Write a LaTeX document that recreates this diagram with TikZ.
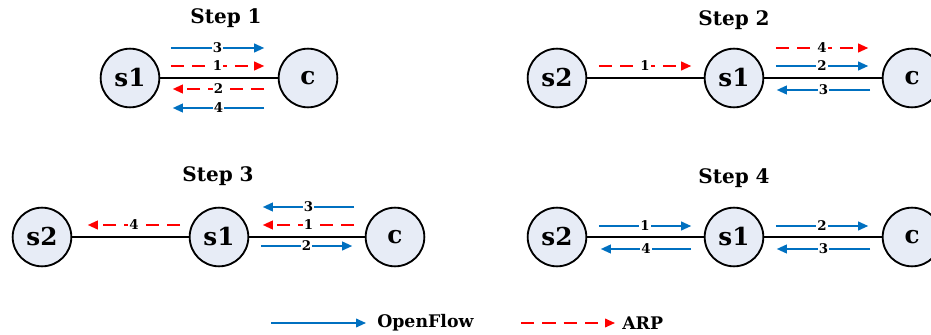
\documentclass[tikz,border=0pt]{standalone}
\usepackage{fontspec}
\setmainfont{DejaVu Serif}
\usetikzlibrary{arrows.meta}
\definecolor{ofblue}{RGB}{0,112,192}
\definecolor{arpred}{RGB}{255,0,0}
\definecolor{hostfill}{RGB}{231,236,246}
\begin{document}
\begin{tikzpicture}[x=0.75pt,y=-0.75pt,
  dev/.style={circle,draw=black,line width=1.4pt,fill=hostfill,minimum size=44pt,inner sep=0pt,
    font=\bfseries\fontsize{18.5}{20}\selectfont},
  link/.style={line width=1.8pt},
  tip/.style={-{Triangle[length=7.5pt,width=6.5pt]}},
  of/.style={tip,draw=ofblue,line width=1.3pt},
  arp/.style={tip,draw=arpred,line width=1.3pt,dash pattern=on 10pt off 6pt},
  num/.style={fill=white,inner sep=0.8pt,font=\bfseries\fontsize{10}{11}\selectfont},
  title/.style={font=\bfseries\fontsize{15}{17}\selectfont},
  legend/.style={anchor=west,inner sep=0pt,font=\bfseries\fontsize{13}{15}\selectfont}]
\useasboundingbox (0,0) rectangle (931,335);

% ---- Step 1 ----
\node[title] (t1) at (226,18) {Step 1};
\node[dev] (a1) at (130,78) {s1};
\node[dev] (ac) at (308,78) {c};
\draw[link] (a1) -- (ac);
\draw[of]  ([shift={(10.5,-30)}]a1.east) -- node[num]{3} ([shift={(-13.5,-30)}]ac.west);
\draw[arp] ([shift={(10.5,-12)}]a1.east) -- node[num]{1} ([shift={(-13.5,-12)}]ac.west);
\draw[arp] ([shift={(-13.5,11)}]ac.west) -- node[num]{2} ([shift={(12.5,11)}]a1.east);
\draw[of]  ([shift={(-13.5,30)}]ac.west) -- node[num]{4} ([shift={(12.5,30)}]a1.east);

% ---- Step 2 ----
\node[title] (t2) at (734,20) {Step 2};
\node[dev] (b2) at (557,78) {s2};
\node[dev] (b1) at (734,78) {s1};
\node[dev] (bc) at (912,78) {c};
\draw[link] (b2) -- (b1);
\draw[link] (b1) -- (bc);
\draw[arp] ([shift={(11.5,-12)}]b2.east) -- node[num]{1} ([shift={(-12.5,-12)}]b1.west);
\draw[arp] ([shift={(11.5,-30)}]b1.east) -- node[num]{4} ([shift={(-13.5,-30)}]bc.west);
\draw[of]  ([shift={(11.5,-12)}]b1.east) -- node[num]{2} ([shift={(-13.5,-12)}]bc.west);
\draw[of]  ([shift={(-11.5,12)}]bc.west) -- node[num]{3} ([shift={(12.5,12)}]b1.east);

% ---- Step 3 ----
\node[title] (t3) at (218,176) {Step 3};
\node[dev] (c2) at (42,237) {s2};
\node[dev] (c1) at (219,237) {s1};
\node[dev] (cc) at (395,237) {c};
\draw[link] (c2) -- (c1);
\draw[link] (c1) -- (cc);
\draw[of]  ([shift={(-10.5,-30)}]cc.west) -- node[num]{3} ([shift={(13.5,-30)}]c1.east);
\draw[arp] ([shift={(-10.5,-12)}]cc.west) -- node[num]{1} ([shift={(13.5,-12)}]c1.east);
\draw[of]  ([shift={(11.5,9)}]c1.east) -- node[num]{2} ([shift={(-12.5,9)}]cc.west);
\draw[arp] ([shift={(-8.5,-12)}]c1.west) -- node[num]{4} ([shift={(15.5,-12)}]c2.east);

% ---- Step 4 ----
\node[title] (t4) at (734,178) {Step 4};
\node[dev] (d2) at (557,237) {s2};
\node[dev] (d1) at (734,237) {s1};
\node[dev] (dc) at (912,237) {c};
\draw[link] (d2) -- (d1);
\draw[link] (d1) -- (dc);
\draw[of] ([shift={(11.5,-11)}]d2.east) -- node[num]{1} ([shift={(-12.5,-11)}]d1.west);
\draw[of] ([shift={(-12.5,12)}]d1.west) -- node[num]{4} ([shift={(13.5,12)}]d2.east);
\draw[of] ([shift={(11.5,-11)}]d1.east) -- node[num]{2} ([shift={(-13.5,-11)}]dc.west);
\draw[of] ([shift={(-11.5,12)}]dc.west) -- node[num]{3} ([shift={(12.5,12)}]d1.east);

% ---- Legend ----
\coordinate (lofa) at (271,323);
\coordinate (lofb) at (366,323);
\node[legend] (lof) at (377,323) {OpenFlow};
\draw[of] (lofa) -- (lofb);
\coordinate (larpa) at (521,323);
\coordinate (larpb) at (615,323);
\node[legend] (larp) at (622,323) {ARP};
\draw[arp] (larpa) -- (larpb);
\end{tikzpicture}
\end{document}
